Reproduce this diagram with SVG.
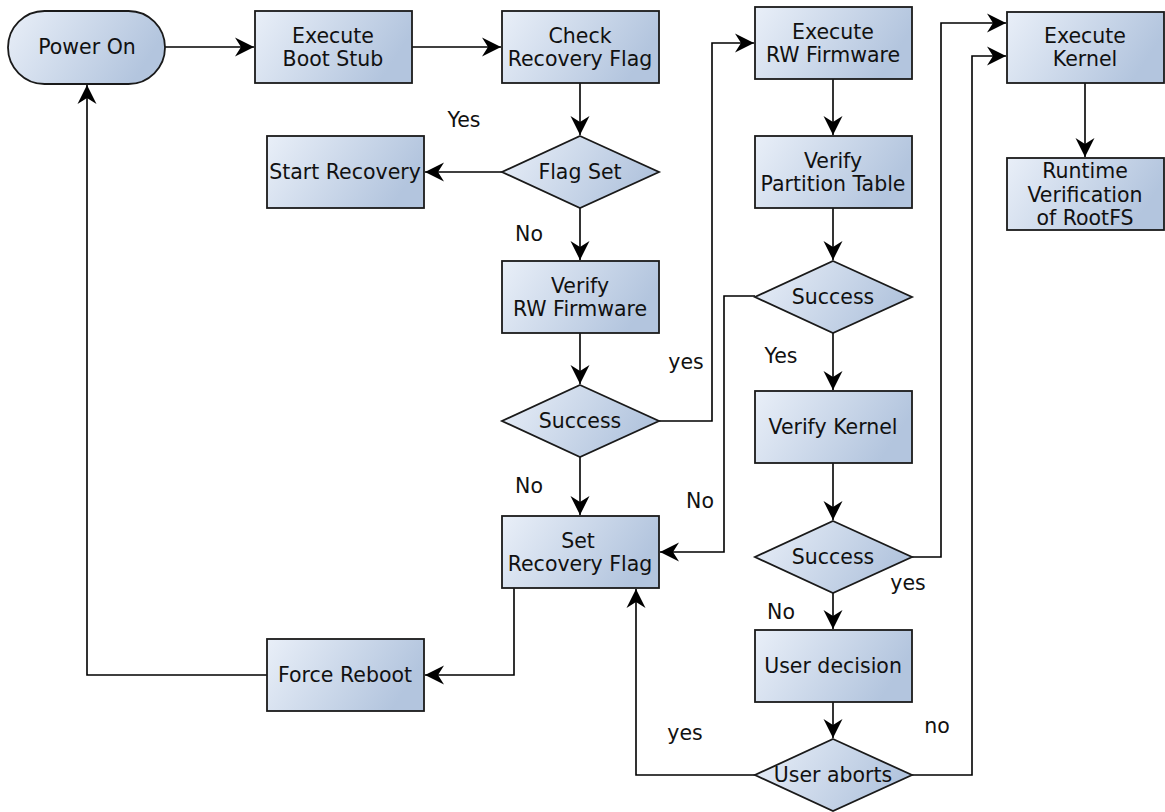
<svg xmlns="http://www.w3.org/2000/svg" width="1165" height="812" viewBox="0 0 1165 812">
  <defs>
    <linearGradient id="fill" x1="0" y1="0" x2="1" y2="0.3">
      <stop offset="0" stop-color="#e9eff8"/>
      <stop offset="1" stop-color="#b3c5de"/>
    </linearGradient>
    <marker id="arrow" markerUnits="userSpaceOnUse" markerWidth="21" markerHeight="21" viewBox="-20 -10.5 21 21" refX="0" refY="0" orient="auto">
      <path d="M0,0 L-19,-9.5 L-13,0 L-19,9.5 Z" fill="#000"/>
    </marker>
    <style>
      .node { fill: url(#fill); stroke: #1a1a1a; stroke-width: 1.8; }
      .lbl { font-family: "DejaVu Sans", "Liberation Sans", sans-serif; font-size: 20.5px; fill: #111; text-anchor: middle; }
      .edge { fill: none; stroke: #000; stroke-width: 1.6; marker-end: url(#arrow); }
    </style>
  </defs>
  <rect width="1165" height="812" fill="#fff"/>

  <!-- connectors -->
  <g id="connectors">
    <path class="edge" d="M165,47 H254"/>
    <path class="edge" d="M412,47 H501"/>
    <path class="edge" d="M580,83 V135"/>
    <path class="edge" d="M502,172 H425"/>
    <path class="edge" d="M580,208 V260"/>
    <path class="edge" d="M580,333 V384"/>
    <path class="edge" d="M659,421 H712 V43 H754"/>
    <path class="edge" d="M580,457 V515"/>
    <path class="edge" d="M833,79 V135"/>
    <path class="edge" d="M833,208 V260"/>
    <path class="edge" d="M755,296 H724 V552 H660"/>
    <path class="edge" d="M833,333 V390"/>
    <path class="edge" d="M833,463 V520"/>
    <path class="edge" d="M912,557 H941 V23 H1006"/>
    <path class="edge" d="M833,593 V629"/>
    <path class="edge" d="M833,702 V738"/>
    <path class="edge" d="M755,775 H636 V589"/>
    <path class="edge" d="M912,775 H972 V56 H1006"/>
    <path class="edge" d="M514,588 V675 H425"/>
    <path class="edge" d="M267,675 H87 V85"/>
    <path class="edge" d="M1085,83 V157"/>
  </g>

  <!-- connector labels -->
  <g id="edge-labels">
    <text class="lbl" x="464" y="127">Yes</text>
    <text class="lbl" x="529" y="241">No</text>
    <text class="lbl" x="686" y="369">yes</text>
    <text class="lbl" x="529" y="493">No</text>
    <text class="lbl" x="700" y="508">No</text>
    <text class="lbl" x="781" y="363">Yes</text>
    <text class="lbl" x="908" y="590">yes</text>
    <text class="lbl" x="781" y="619">No</text>
    <text class="lbl" x="685" y="740">yes</text>
    <text class="lbl" x="937" y="733">no</text>
  </g>

  <g id="power-on">
    <rect class="node" x="8" y="11" width="157" height="73" rx="36.5" ry="36.5"/>
    <text class="lbl" x="87" y="54">Power On</text>
  </g>
  <g id="execute-boot-stub">
    <rect class="node" x="255" y="11" width="157" height="72"/>
    <text class="lbl" x="333" y="43">Execute</text>
    <text class="lbl" x="333" y="66">Boot Stub</text>
  </g>
  <g id="check-recovery-flag">
    <rect class="node" x="502" y="11" width="157" height="72"/>
    <text class="lbl" x="580" y="43">Check</text>
    <text class="lbl" x="580" y="66">Recovery Flag</text>
  </g>
  <g id="flag-set">
    <polygon class="node" points="580,136 659,172 580,208 502,172"/>
    <text class="lbl" x="580" y="179">Flag Set</text>
  </g>
  <g id="start-recovery">
    <rect class="node" x="267" y="136" width="157" height="72"/>
    <text class="lbl" x="345" y="179">Start Recovery</text>
  </g>
  <g id="verify-rw-firmware">
    <rect class="node" x="502" y="261" width="157" height="72"/>
    <text class="lbl" x="580" y="293">Verify</text>
    <text class="lbl" x="580" y="316">RW Firmware</text>
  </g>
  <g id="success-rw">
    <polygon class="node" points="580,385 659,421 580,457 502,421"/>
    <text class="lbl" x="580" y="428">Success</text>
  </g>
  <g id="set-recovery-flag">
    <rect class="node" x="502" y="516" width="157" height="72"/>
    <text class="lbl" x="578" y="548">Set</text>
    <text class="lbl" x="580" y="571">Recovery Flag</text>
  </g>
  <g id="force-reboot">
    <rect class="node" x="267" y="639" width="157" height="72"/>
    <text class="lbl" x="345" y="682">Force Reboot</text>
  </g>
  <g id="execute-rw-firmware">
    <rect class="node" x="755" y="7" width="157" height="72"/>
    <text class="lbl" x="833" y="39">Execute</text>
    <text class="lbl" x="833" y="62">RW Firmware</text>
  </g>
  <g id="verify-partition-table">
    <rect class="node" x="755" y="136" width="157" height="72"/>
    <text class="lbl" x="833" y="168">Verify</text>
    <text class="lbl" x="833" y="191">Partition Table</text>
  </g>
  <g id="success-partition">
    <polygon class="node" points="833,261 912,297 833,333 755,297"/>
    <text class="lbl" x="833" y="304">Success</text>
  </g>
  <g id="verify-kernel">
    <rect class="node" x="755" y="391" width="157" height="72"/>
    <text class="lbl" x="833" y="434">Verify Kernel</text>
  </g>
  <g id="success-kernel">
    <polygon class="node" points="833,521 912,557 833,593 755,557"/>
    <text class="lbl" x="833" y="564">Success</text>
  </g>
  <g id="user-decision">
    <rect class="node" x="755" y="630" width="157" height="72"/>
    <text class="lbl" x="833" y="673">User decision</text>
  </g>
  <g id="user-aborts">
    <polygon class="node" points="833,739 912,775 833,811 755,775"/>
    <text class="lbl" x="833" y="782">User aborts</text>
  </g>
  <g id="execute-kernel">
    <rect class="node" x="1007" y="12" width="157" height="71"/>
    <text class="lbl" x="1085" y="43">Execute</text>
    <text class="lbl" x="1085" y="66">Kernel</text>
  </g>
  <g id="runtime-verification">
    <rect class="node" x="1007" y="158" width="157" height="72"/>
    <text class="lbl" x="1085" y="178">Runtime</text>
    <text class="lbl" x="1085" y="202">Verification</text>
    <text class="lbl" x="1085" y="225">of RootFS</text>
  </g>
</svg>
